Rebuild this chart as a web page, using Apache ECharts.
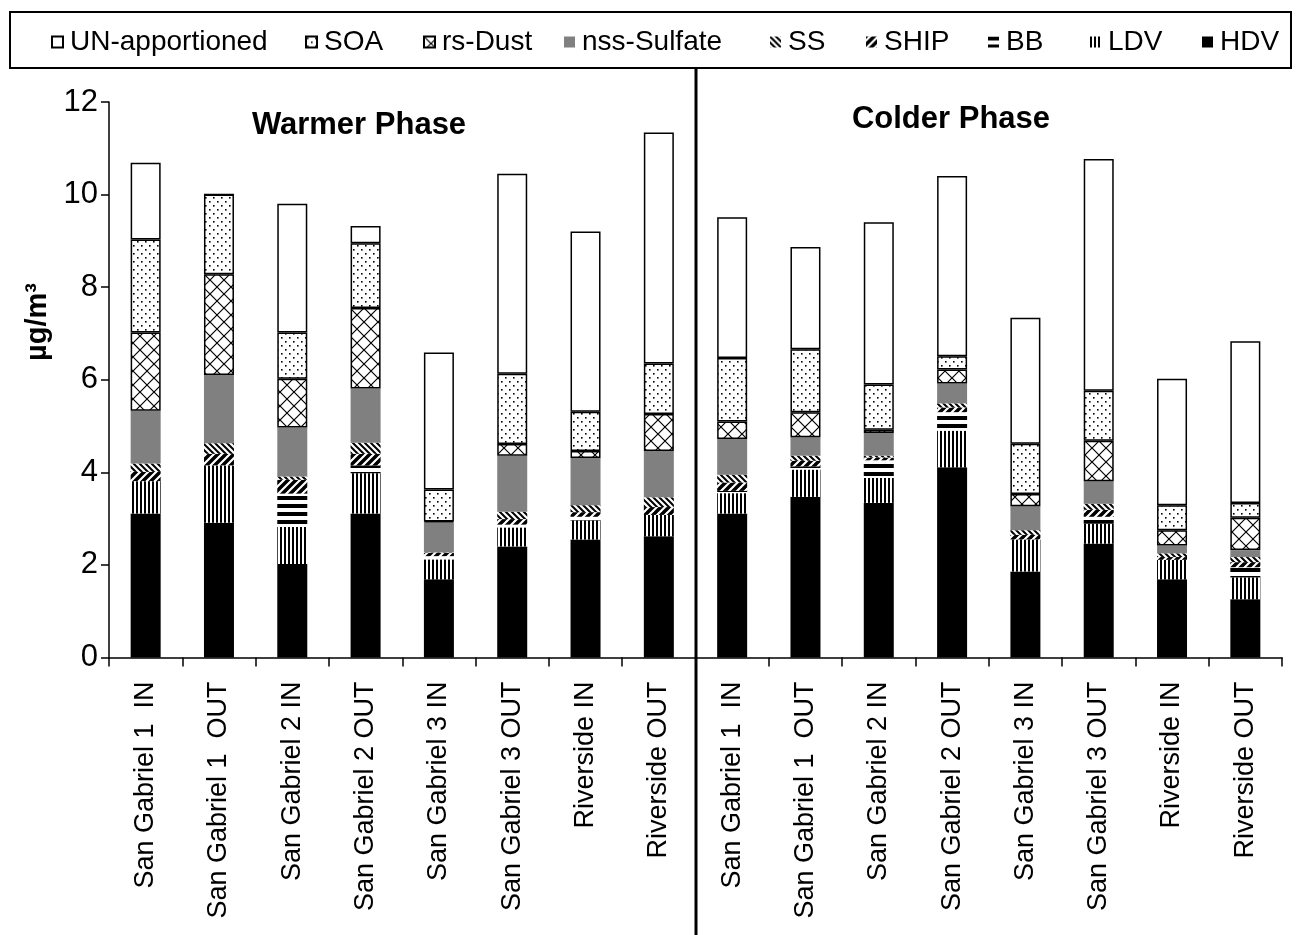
<!DOCTYPE html>
<html>
<head>
<meta charset="utf-8">
<script src="https://cdn.jsdelivr.net/npm/echarts@6/dist/echarts.min.js"></script>
<style>
  html, body { margin: 0; padding: 0; background: #fff; }
  #chart { width: 1301px; height: 935px; }
</style>
</head>
<body>
<div id="chart"></div>
<script>
// Sites, warmer phase first then colder phase
const categories = [
  'San Gabriel 1  IN', 'San Gabriel 1  OUT', 'San Gabriel 2 IN', 'San Gabriel 2 OUT',
  'San Gabriel 3 IN', 'San Gabriel 3 OUT', 'Riverside IN', 'Riverside OUT',
  'San Gabriel 1  IN', 'San Gabriel 1  OUT', 'San Gabriel 2 IN', 'San Gabriel 2 OUT',
  'San Gabriel 3 IN', 'San Gabriel 3 OUT', 'Riverside IN', 'Riverside OUT'
];
const xKeys = categories.map((c, i) => i); // unique category keys

// Source contributions, µg/m³ (stacked bottom to top)
const hdv      = [3.11, 2.91, 2.02, 3.11, 1.69, 2.40, 2.55, 2.62, 3.11, 3.47, 3.34, 4.11, 1.86, 2.46, 1.69, 1.26];
const ldv      = [0.70, 1.24, 0.80, 0.87, 0.43, 0.41, 0.41, 0.46, 0.44, 0.59, 0.54, 0.79, 0.69, 0.43, 0.42, 0.47];
const bb       = [0.00, 0.00, 0.72, 0.17, 0.07, 0.06, 0.08, 0.00, 0.05, 0.07, 0.38, 0.40, 0.00, 0.15, 0.00, 0.22];
const ship     = [0.20, 0.25, 0.30, 0.25, 0.07, 0.12, 0.10, 0.17, 0.18, 0.12, 0.06, 0.10, 0.10, 0.15, 0.06, 0.11];
const ss       = [0.18, 0.23, 0.07, 0.24, 0.01, 0.16, 0.15, 0.21, 0.17, 0.11, 0.04, 0.09, 0.10, 0.13, 0.08, 0.11];
const sulfate  = [1.14, 1.47, 1.06, 1.17, 0.65, 1.21, 1.02, 1.00, 0.77, 0.40, 0.49, 0.43, 0.52, 0.49, 0.17, 0.15];
const dust     = [1.69, 2.18, 1.05, 1.74, 0.02, 0.25, 0.15, 0.80, 0.38, 0.54, 0.07, 0.30, 0.26, 0.87, 0.33, 0.70];
const soa      = [2.01, 1.72, 1.00, 1.40, 0.69, 1.52, 0.85, 1.09, 1.37, 1.36, 0.98, 0.29, 1.09, 1.08, 0.54, 0.32];
const unapp    = [1.66, 0.00, 2.78, 0.37, 2.96, 4.32, 3.89, 4.99, 3.04, 2.21, 3.50, 3.89, 2.72, 5.01, 2.73, 3.49];

const legendOrder = ['UN-apportioned', 'SOA', 'rs-Dust', 'nss-Sulfate', 'SS', 'SHIP', 'BB', 'LDV', 'HDV'];
const phaseTitles = ['Warmer Phase', 'Colder Phase'];
const yName = 'µg/m³';

const FONT = "'Liberation Sans', Arial, Helvetica, sans-serif";

// Monochrome fill patterns
function tile(w, h, draw) {
  const c = document.createElement('canvas');
  c.width = w; c.height = h;
  const g = c.getContext('2d');
  g.fillStyle = '#fff'; g.fillRect(0, 0, w, h);
  g.fillStyle = '#000'; g.strokeStyle = '#000';
  draw(g, w, h);
  return { image: c, repeat: 'repeat' };
}
const patDots = tile(8, 8, g => { g.fillRect(1, 1, 1.6, 1.6); g.fillRect(5, 5, 1.6, 1.6); });
const patDiamond = tile(14, 14, (g, w, h) => {
  g.lineWidth = 1.2;
  g.beginPath();
  g.moveTo(-1, -1); g.lineTo(w + 1, h + 1);
  g.moveTo(w + 1, -1); g.lineTo(-1, h + 1);
  g.stroke();
});
const patBack = tile(6, 6, (g, w, h) => {
  g.lineWidth = 2;
  g.beginPath();
  for (let k = -w; k <= w; k += w) { g.moveTo(k - 1, -1); g.lineTo(k + h + 1, h + 1); }
  g.stroke();
});
const patFwd = tile(8, 8, (g, w, h) => {
  g.lineWidth = 3.5;
  g.beginPath();
  for (let k = -w; k <= w; k += w) { g.moveTo(k - 1, h + 1); g.lineTo(k + h + 1, -1); }
  g.stroke();
});
const patHoriz = tile(8, 8, g => { g.fillRect(0, 0, 8, 4); });
const patVert = tile(4, 4, g => { g.fillRect(0, 0, 2, 4); });

const outlined = { borderColor: '#000', borderWidth: 1.5 };

function bar(name, data, itemStyle) {
  return {
    name, type: 'bar', stack: 'total', data, barWidth: 30,
    itemStyle, emphasis: { disabled: true }, silent: true
  };
}

const series = [
  bar('HDV', hdv, { color: '#000' }),
  bar('LDV', ldv, { color: patVert }),
  bar('BB', bb, { color: patHoriz }),
  bar('SHIP', ship, { color: patFwd }),
  bar('SS', ss, { color: patBack }),
  bar('nss-Sulfate', sulfate, { color: '#808080' }),
  bar('rs-Dust', dust, Object.assign({ color: patDiamond }, outlined)),
  bar('SOA', soa, Object.assign({ color: patDots }, outlined)),
  bar('UN-apportioned', unapp, Object.assign({ color: '#fff' }, outlined))
];

const legendLeft = [51, 305, 423, 564, 770, 866, 988, 1090, 1202];
const legends = legendOrder.map((name, i) => ({
  data: [{ name, icon: 'rect' }],
  left: legendLeft[i], top: 26, padding: 0,
  itemWidth: 11, itemHeight: 11, selectedMode: false,
  textStyle: { fontFamily: FONT, fontSize: 28, color: '#000', lineHeight: 32, padding: [0, 0, 0, 2] }
}));

const chart = echarts.init(document.getElementById('chart'), null, { renderer: 'canvas' });
chart.setOption({
  animation: false,
  backgroundColor: '#fff',
  textStyle: { fontFamily: FONT },
  legend: legends,
  grid: { left: 109, right: 19, top: 102, bottom: 277.5, containLabel: false },
  xAxis: {
    type: 'category', data: xKeys,
    axisLine: { lineStyle: { color: '#000', width: 1.5 } },
    axisTick: { show: true, length: 9, lineStyle: { color: '#000', width: 1.5 } },
    axisLabel: {
      rotate: 90, margin: 24, fontSize: 27, color: '#000', fontFamily: FONT,
      interval: 0, formatter: v => categories[v]
    }
  },
  yAxis: {
    type: 'value', min: 0, max: 12, interval: 2,
    axisLine: { show: true, lineStyle: { color: '#000', width: 1.5 } },
    axisTick: { show: true, length: 8, lineStyle: { color: '#000', width: 1.5 } },
    axisLabel: { fontSize: 31, color: '#000', margin: 11, fontFamily: FONT },
    splitLine: { show: false }
  },
  series
});

// Phase divider, titles, legend frame and unit label
const xa = chart.convertToPixel({ xAxisIndex: 0 }, 7);
const xb = chart.convertToPixel({ xAxisIndex: 0 }, 8);
const divX = Math.round((xa + xb) / 2);
chart.setOption({
  graphic: [
    { type: 'rect', shape: { x: 10, y: 12, width: 1281, height: 56 },
      style: { fill: 'none', stroke: '#000', lineWidth: 2 }, silent: true },
    { type: 'line', shape: { x1: divX, y1: 68, x2: divX, y2: 935 },
      style: { stroke: '#000', lineWidth: 3 }, silent: true },
    { type: 'text', x: 359, y: 125,
      style: { text: phaseTitles[0], font: 'bold 31px ' + FONT, fill: '#000', textAlign: 'center', textVerticalAlign: 'middle' } },
    { type: 'text', x: 951, y: 119,
      style: { text: phaseTitles[1], font: 'bold 31px ' + FONT, fill: '#000', textAlign: 'center', textVerticalAlign: 'middle' } },
    { type: 'text', x: 38, y: 322, rotation: Math.PI / 2,
      style: { text: yName, font: 'bold 29px ' + FONT, fill: '#000', textAlign: 'center', textVerticalAlign: 'middle' } }
  ]
});
</script>
</body>
</html>
